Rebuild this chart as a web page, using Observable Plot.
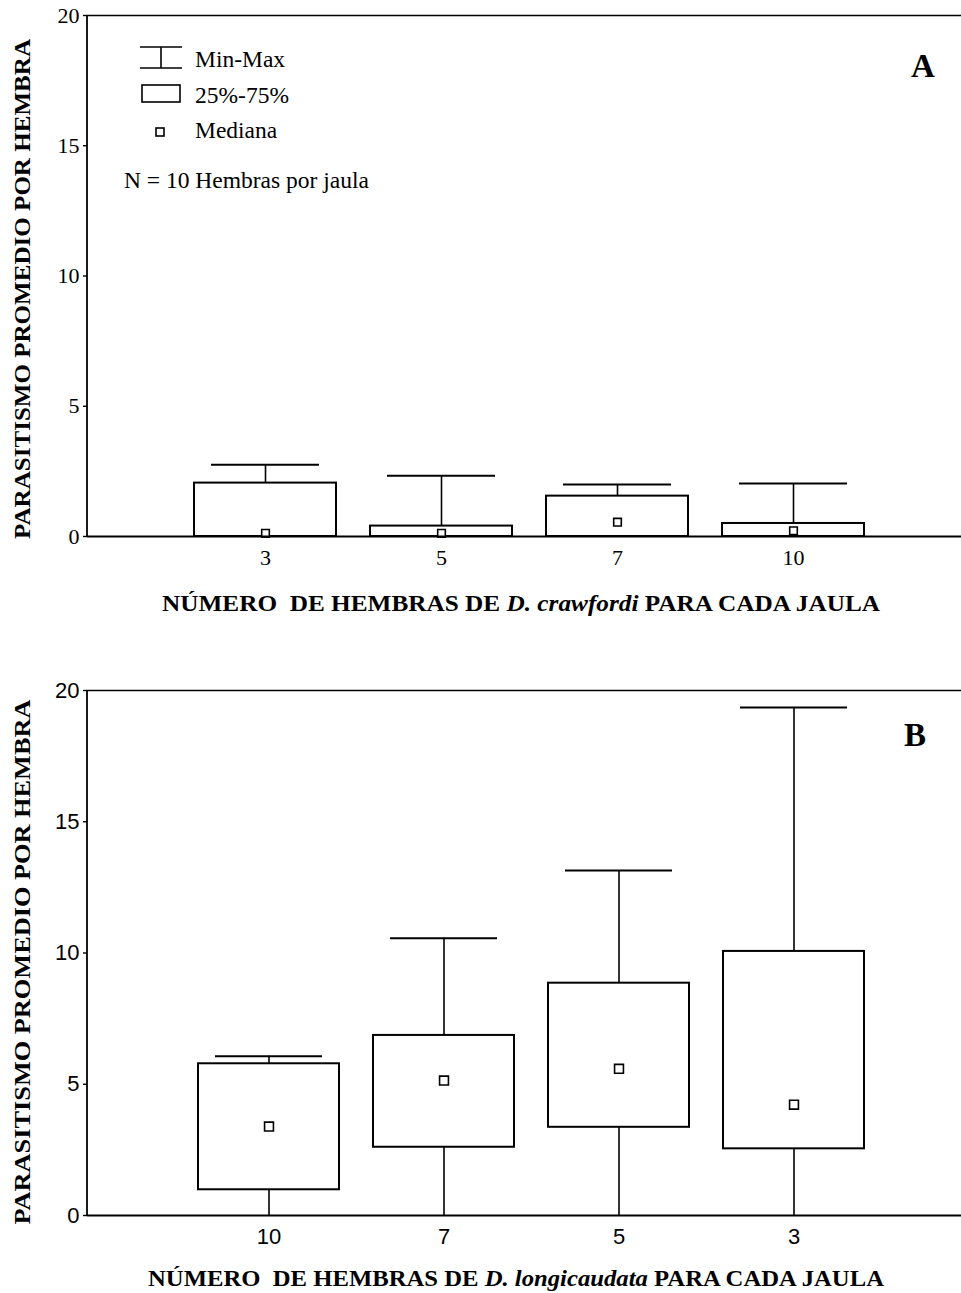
<!DOCTYPE html>
<html><head><meta charset="utf-8">
<script src="https://cdn.jsdelivr.net/npm/d3@7"></script>
<script src="https://cdn.jsdelivr.net/npm/@observablehq/plot@0.6"></script>
<style>
html,body{margin:0;padding:0;background:#fff;}
#chart{width:961px;}
svg{display:block;}
</style></head><body><div id="chart"></div>
<script>
// Panel A: D. crawfordi
const catsA = ["3","5","7","10"];
const minA  = [0, 0, 0, 0];
const q1A   = [0, 0, 0, 0];
const medA  = [0.12, 0.12, 0.55, 0.22];
const q3A   = [2.05, 0.40, 1.55, 0.50];
const maxA  = [2.75, 2.33, 2.00, 2.03];

// Panel B: D. longicaudata
const catsB = ["10","7","5","3"];
const minB  = [0, 0, 0, 0];
const q1B   = [0.98, 2.60, 3.36, 2.54];
const medB  = [3.39, 5.14, 5.59, 4.22];
const q3B   = [5.78, 6.86, 8.85, 10.06];
const maxB  = [6.07, 10.56, 13.14, 19.35];

const yTicks = [0, 5, 10, 15, 20];
const yLabel = "PARASITISMO PROMEDIO POR HEMBRA";
const xLabelA = ["NÚMERO  DE HEMBRAS DE ", "D. crawfordi", " PARA CADA JAULA"];
const xLabelB = ["NÚMERO  DE HEMBRAS DE ", "D. longicaudata", " PARA CADA JAULA"];
const legendLabels = ["Min-Max", "25%-75%", "Mediana"];
const noteA = "N = 10 Hembras por jaula";

function rows(cats, mn, q1, md, q3, mx) {
  return cats.map((c, i) => ({cat: c, min: mn[i], q1: q1[i], med: md[i], q3: q3[i], max: mx[i]}));
}

function panel({data, height, marginTop, marginBottom, xRange, fontFamily, medR, tickPad, fs}) {
  return Plot.plot({
    width: 961, height, marginTop, marginBottom, marginLeft: 87, marginRight: 0,
    style: {fontFamily, fontSize: fs + "px", color: "black", background: "white", overflow: "visible"},
    x: {type: "band", domain: data.map(d => d.cat), range: xRange, paddingInner: 0.195, paddingOuter: 0.0975, axis: null},
    y: {domain: [0, 20], axis: null},
    marks: [
      Plot.barY(data, {x: "cat", y1: "q1", y2: "q3", fill: "white", stroke: "black", strokeWidth: 2}),
      Plot.ruleX(data, {x: "cat", y1: "q3", y2: "max", stroke: "black", strokeWidth: 1.6}),
      Plot.ruleX(data, {x: "cat", y1: "min", y2: "q1", stroke: "black", strokeWidth: 1.6}),
      Plot.tickY(data, {x: "cat", y: "max", insetLeft: 17, insetRight: 17, stroke: "black", strokeWidth: 2}),
      Plot.dot(data, {x: "cat", y: "med", symbol: "square", r: medR, fill: "white", stroke: "black", strokeWidth: 1.6}),
      Plot.ruleY([20], {stroke: "black", strokeWidth: 1.6}),
      Plot.ruleY([0], {stroke: "black", strokeWidth: 2}),
      Plot.axisY(yTicks, {tickSize: 4, tickPadding: 4, tickFormat: d => d, label: null, stroke: "black", strokeWidth: 1.4, fontSize: fs}),
      Plot.axisX({tickSize: 0, tickPadding: tickPad, label: null, fontSize: fs})
    ]
  });
}

const dataA = rows(catsA, minA, q1A, medA, q3A, maxA);
const dataB = rows(catsB, minB, q1B, medB, q3B, maxB);

const svgA = panel({data: dataA, height: 640, marginTop: 15, marginBottom: 104, xRange: [175.8, 881.2], fontFamily: "'Liberation Serif', 'Times New Roman', serif", medR: 4.3, tickPad: 13, fs: 22});
const svgB = panel({data: dataB, height: 653, marginTop: 50, marginBottom: 78, xRange: [179.2, 881.8], fontFamily: "'Liberation Sans', Arial, sans-serif", medR: 5, tickPad: 13, fs: 22});

const chart = document.getElementById("chart");
chart.appendChild(svgA);
chart.appendChild(svgB);

// left axis line, placed with the y scale
function addLeftLine(svg) {
  const y = svg.scale("y");
  d3.select(svg).append("line")
    .attr("x1", 87).attr("x2", 87)
    .attr("y1", y.apply(0)).attr("y2", y.apply(20))
    .attr("stroke", "black").attr("stroke-width", 1.8);
}
function addYLabel(svg, cy, len) {
  d3.select(svg).append("text")
    .attr("transform", `translate(30,${cy}) rotate(-90)`)
    .attr("text-anchor", "middle")
    .attr("font-family", "'Liberation Serif', serif")
    .attr("font-weight", "bold")
    .attr("font-size", 23)
    .attr("textLength", len).attr("lengthAdjust", "spacingAndGlyphs")
    .attr("fill", "black")
    .text(yLabel);
}
function addXLabel(svg, cx, y, len, parts) {
  const t = d3.select(svg).append("text")
    .attr("x", cx).attr("y", y)
    .attr("text-anchor", "middle")
    .attr("font-family", "'Liberation Serif', serif")
    .attr("font-weight", "bold")
    .attr("font-size", 23)
    .attr("textLength", len).attr("lengthAdjust", "spacingAndGlyphs")
    .attr("fill", "black")
    .style("white-space", "pre");
  t.append("tspan").text(parts[0]);
  t.append("tspan").attr("font-style", "italic").text(parts[1]);
  t.append("tspan").text(parts[2]);
}
function addLetter(svg, x, y, letter) {
  d3.select(svg).append("text")
    .attr("x", x).attr("y", y)
    .attr("text-anchor", "start")
    .attr("font-family", "'Liberation Serif', serif")
    .attr("font-weight", "bold")
    .attr("font-size", 33)
    .attr("fill", "black")
    .text(letter);
}

addLeftLine(svgA);
addLeftLine(svgB);
addYLabel(svgA, 289, 500);
addXLabel(svgA, 521, 611, 718, xLabelA);
addLetter(svgA, 911, 77, "A");

addYLabel(svgB, 322, 525);
addXLabel(svgB, 516, 646, 736, xLabelB);
addLetter(svgB, 904, 106, "B");

// legend (panel A)
const lg = d3.select(svgA).append("g").attr("stroke", "black").attr("fill", "none");
lg.append("line").attr("x1", 140).attr("x2", 182).attr("y1", 47).attr("y2", 47).attr("stroke-width", 1.6);
lg.append("line").attr("x1", 140).attr("x2", 182).attr("y1", 68).attr("y2", 68).attr("stroke-width", 1.6);
lg.append("line").attr("x1", 161).attr("x2", 161).attr("y1", 47).attr("y2", 68).attr("stroke-width", 1.6);
lg.append("rect").attr("x", 142).attr("y", 85).attr("width", 38).attr("height", 17).attr("stroke-width", 1.6).attr("fill", "white");
lg.append("rect").attr("x", 156).attr("y", 128).attr("width", 8).attr("height", 8).attr("stroke-width", 1.6).attr("fill", "white");
const lt = d3.select(svgA).append("g")
  .attr("text-anchor", "start")
  .attr("font-family", "'Liberation Serif', serif").attr("font-size", 23.5).attr("fill", "black");
[67, 103, 138].forEach((y, i) => lt.append("text").attr("x", 195).attr("y", y).text(legendLabels[i]));
lt.append("text").attr("x", 124).attr("y", 188).text(noteA);
</script>
</body></html>
